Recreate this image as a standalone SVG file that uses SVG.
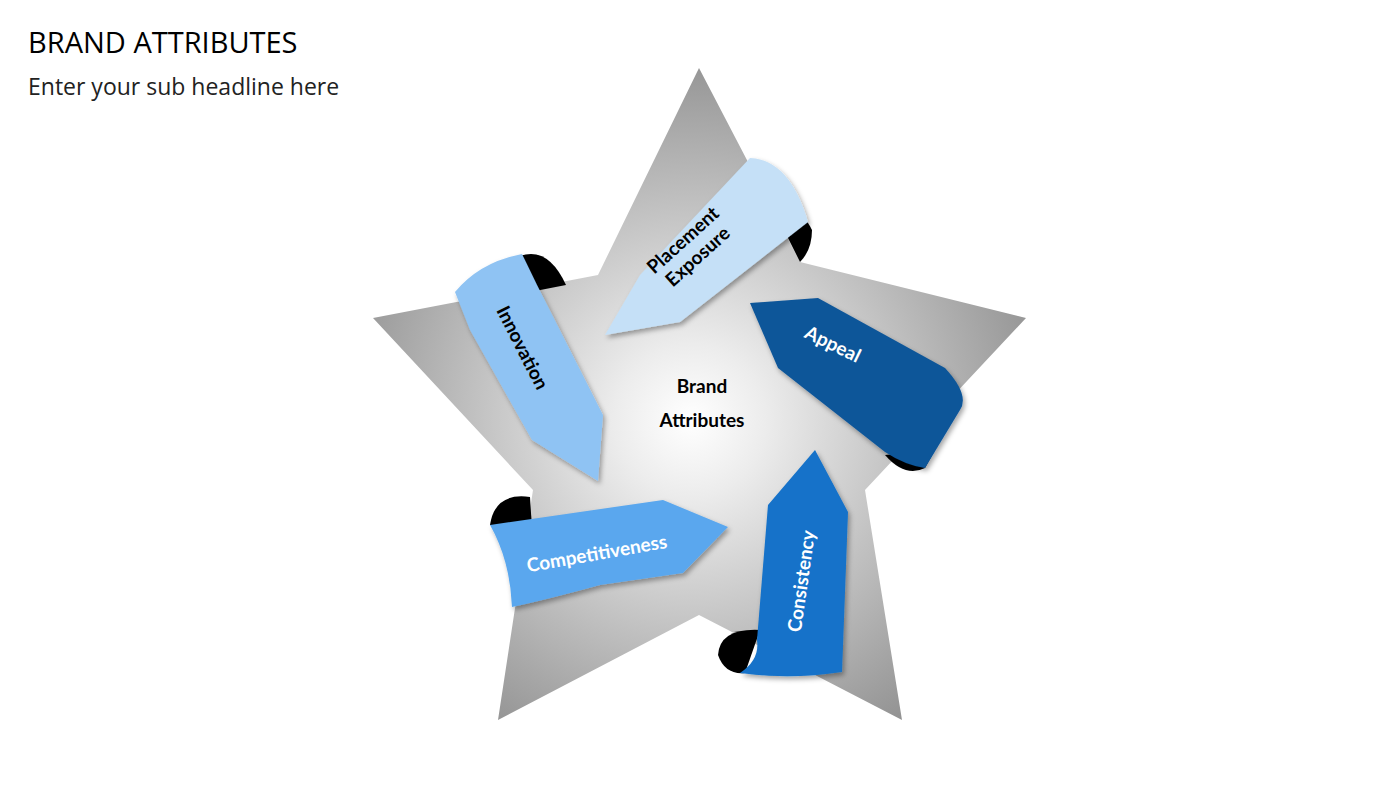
<svg xmlns="http://www.w3.org/2000/svg" width="1400" height="788" viewBox="0 0 1400 788">
<defs>
<radialGradient id="g" cx="690" cy="420" r="380" gradientUnits="userSpaceOnUse"><stop offset="0" stop-color="#ffffff"/><stop offset="0.2" stop-color="#ececec"/><stop offset="1" stop-color="#8e8e8e"/></radialGradient>
<filter id="sh" x="-20%" y="-20%" width="140%" height="140%"><feDropShadow dx="2" dy="3" stdDeviation="2.5" flood-opacity="0.35"/></filter>
</defs>
<style>
.t{font-family:Lato,"Open Sans",sans-serif;font-weight:bold;font-size:19px;text-anchor:middle}
.curl{fill:#000}
</style>
<rect width="1400" height="788" fill="#fff"/>
<text x="28" y="53" font-family="'Open Sans',sans-serif" font-size="29" fill="#000">BRAND ATTRIBUTES</text>
<text x="28" y="95" font-family="'Open Sans',sans-serif" font-size="23" fill="#222">Enter your sub headline here</text>
<g id="star"><polygon points="699,68 800,262 1026,318 865,490 902,720 699,615 498,720 533,490 373,318 598,275" fill="url(#g)"/></g>
<g id="placement">
<path class="curl" d="M778,218 Q800,205 812,230 Q812,250 800,262 Z"/>
<path d="M605,335 L680,322 L808,222 Q790,160 750,158 L640,275 Z" fill="#c5e0f7" filter="url(#sh)"/>
<text class="t" transform="translate(690,248) rotate(-42)" fill="#000"><tspan x="0" y="-4">Placement</tspan><tspan x="0" y="18">Exposure</tspan></text>
</g>
<g id="innovation">
<path class="curl" d="M520,256 Q548,246 566,285 L530,292 Z"/>
<path d="M455,292 Q480,262 522,254 L537,285 L603,415 L598,481 L532,440 L470,330 Z" fill="#8fc3f3" filter="url(#sh)"/>
<text class="t" transform="translate(522,348) rotate(63)" fill="#000" dy="6">Innovation</text>
</g>
<g id="appeal">
<path class="curl" d="M885,455 Q905,478 925,468 L935,450 Z"/>
<path d="M750,303 L818,298 L945,368 Q970,395 960,410 L925,468 Q905,465 885,452 L778,368 Z" fill="#0f5699" filter="url(#sh)"/>
<text class="t" transform="translate(830,350) rotate(26)" fill="#fff">Appeal</text>
</g>
<g id="consistency">
<path class="curl" d="M760,630 Q720,628 718,655 Q725,675 745,673 Z"/>
<path d="M815,450 L848,512 L842,672 Q790,680 740,673 Q760,660 757,640 L768,505 Z" fill="#1472c9" filter="url(#sh)"/>
<text class="t" transform="translate(808,582) rotate(-82)" fill="#fff">Consistency</text>
</g>
<g id="competitiveness">
<path class="curl" d="M530,497 Q495,492 490,525 L532,528 Z"/>
<path d="M490,525 L663,500 L728,527 L683,573 L600,585 Q545,600 512,607 Q510,560 490,525 Z" fill="#5aa7ee" filter="url(#sh)"/>
<text class="t" transform="translate(598,560) rotate(-10)" fill="#fff">Competitiveness</text>
</g>
<g id="center">
<text class="t" x="702" y="393" font-size="23" fill="#000">Brand</text>
<text class="t" x="702" y="427" font-size="23" fill="#000">Attributes</text>
</g>
<g id="connectors"/>
</svg>
